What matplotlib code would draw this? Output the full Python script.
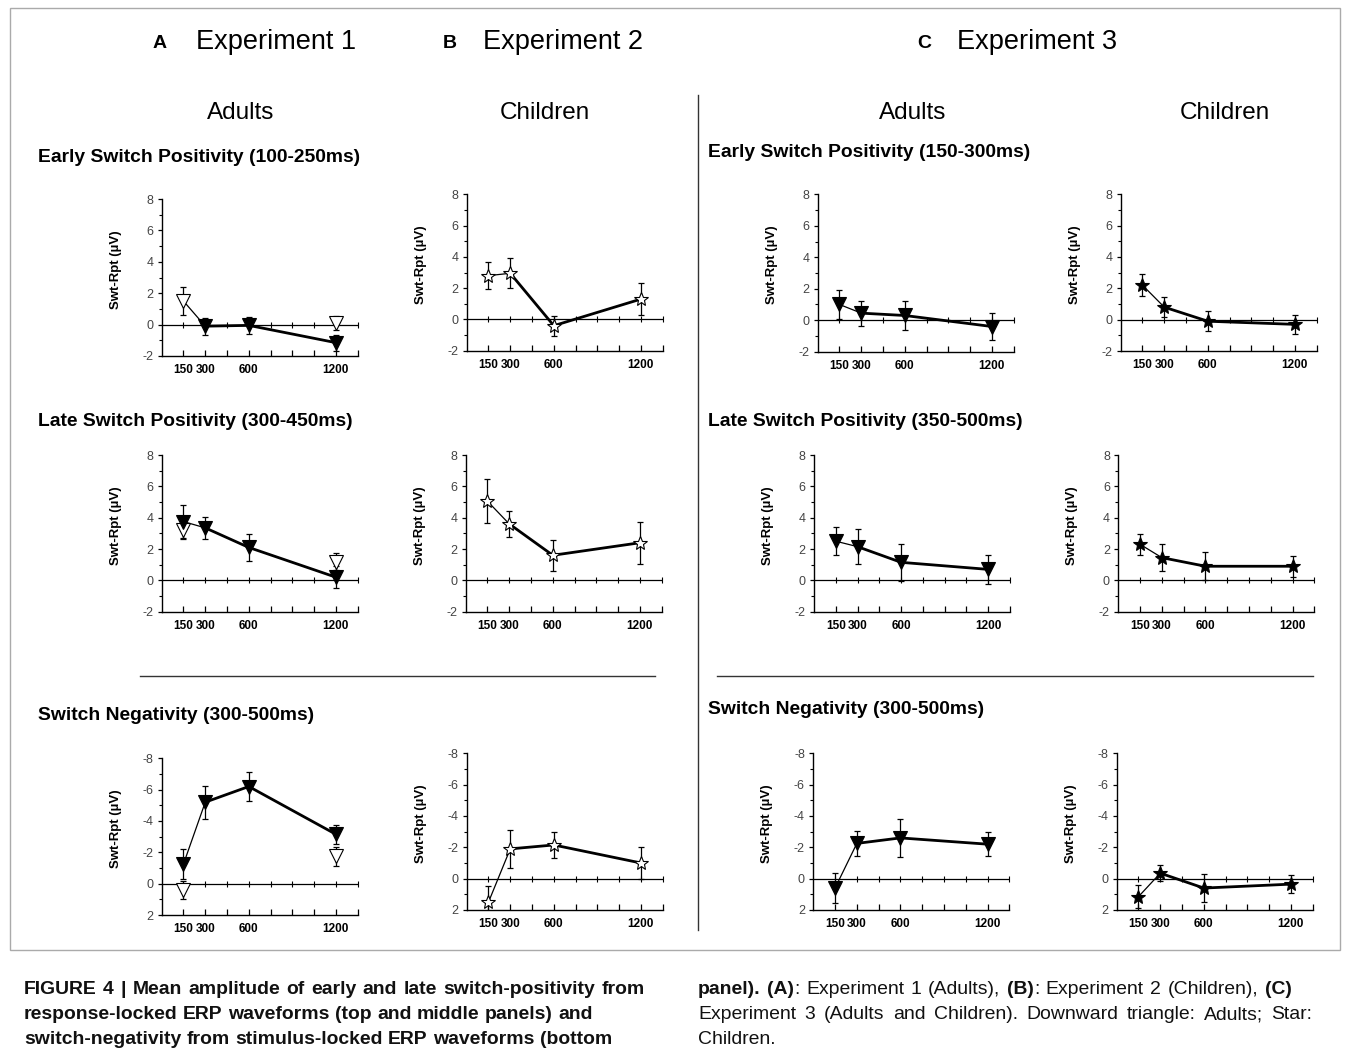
import matplotlib
matplotlib.use('Agg')
import matplotlib.pyplot as plt
from matplotlib.lines import Line2D
from matplotlib.patches import Rectangle

plt.rcParams['font.family'] = ['Liberation Sans', 'DejaVu Sans']
plt.rcParams['axes.unicode_minus'] = False

W, H = 1357, 1058
fig = plt.figure(figsize=(W / 100, H / 100), dpi=100)

# ---------------- data ----------------
delays = [150, 300, 600, 1200]
delay_labels = ['150', '300', '600', '1200']
minor_delays = [450, 750, 900, 1050, 1350]

# Experiment 1 (adults), triangles
e1_early = [1.5, -0.1, -0.05, -1.15]
e1_early_err = [0.9, 0.55, 0.55, 0.5]
e1_early_open = [True, False, False, False]
e1_early_xx = [1200]
e1_early_xv = [0.1]
e1_early_xe = [0.45]

e1_late = [3.75, 3.35, 2.1, 0.2]
e1_late_err = [1.05, 0.7, 0.85, 0.7]
e1_late_open = [False, False, False, False]
e1_late_xx = [150, 1200]
e1_late_xv = [3.2, 1.2]
e1_late_xe = [0.57, 0.55]

e1_neg = [-1.25, -5.2, -6.2, -3.15]
e1_neg_err = [0.95, 1.05, 0.9, 0.6]
e1_neg_open = [False, False, False, False]
e1_neg_xx = [150, 1200]
e1_neg_xv = [0.4, -1.75]
e1_neg_xe = [0.6, 0.6]

# Experiment 2 (children), open stars
e2_early = [2.8, 2.95, -0.4, 1.3]
e2_early_err = [0.85, 0.95, 0.65, 1.0]
e2_late = [5.05, 3.6, 1.6, 2.4]
e2_late_err = [1.4, 0.85, 1.0, 1.35]
e2_neg = [1.5, -1.9, -2.15, -1.0]
e2_neg_err = [1.0, 1.2, 0.85, 1.05]

# Experiment 3 adults (filled triangles) and children (filled stars)
e3a_early = [1.0, 0.45, 0.3, -0.4]
e3a_early_err = [0.95, 0.8, 0.9, 0.85]
e3c_early = [2.2, 0.8, -0.1, -0.3]
e3c_early_err = [0.72, 0.65, 0.65, 0.62]
e3a_late = [2.5, 2.15, 1.15, 0.7]
e3a_late_err = [0.88, 1.12, 1.2, 0.92]
e3c_late = [2.3, 1.45, 0.9, 0.9]
e3c_late_err = [0.68, 0.85, 0.9, 0.68]
e3a_neg = [0.6, -2.25, -2.6, -2.2]
e3a_neg_err = [0.95, 0.78, 1.2, 0.75]
e3c_neg = [1.15, -0.35, 0.6, 0.35]
e3c_neg_err = [0.72, 0.53, 0.88, 0.58]

pos_ticks = [-2, 0, 2, 4, 6, 8]
neg_ticks = [-8, -6, -4, -2, 0, 2]
ylabel = 'Swt-Rpt (\u00b5V)'

# ---------------- helpers ----------------
AX_W = 196


def make_axes(left, top, bottom, inverted):
    ax = fig.add_axes([left / W, 1 - bottom / H, AX_W / W, (bottom - top) / H])
    ax.set_xlim(0, 1350)
    if inverted:
        ax.set_ylim(2, -8)
        ax.set_yticks(neg_ticks)
        ax.set_yticks([-7, -5, -3, -1, 1], minor=True)
    else:
        ax.set_ylim(-2, 8)
        ax.set_yticks(pos_ticks)
        ax.set_yticks([-1, 1, 3, 5, 7], minor=True)
    for s in ('top', 'right'):
        ax.spines[s].set_visible(False)
    for s in ('left', 'bottom'):
        ax.spines[s].set_linewidth(1.0)
    ax.set_xticks(delays)
    ax.set_xticklabels(delay_labels, fontsize=8.5, fontweight='bold')
    ax.set_xticks(minor_delays, minor=True)
    ax.tick_params(axis='x', which='both', direction='in', length=4, width=0.9, pad=6)
    ax.tick_params(axis='y', which='major', direction='out', length=3, width=0.9,
                   labelsize=9, labelcolor='#444444', pad=3)
    ax.tick_params(axis='y', which='minor', direction='out', length=2, width=0.8)
    ax.set_ylabel(ylabel, fontsize=9.5, fontweight='bold')
    ax.yaxis.set_label_coords(-40 / AX_W, 0.55)
    ax.axhline(0, color='k', lw=0.9, zorder=1)
    allx = sorted(delays + minor_delays)
    ax.plot(allx, [0] * len(allx), ls='none', marker='|', ms=5, mew=0.8, color='k',
            clip_on=False, zorder=1)
    ax.patch.set_alpha(0)
    return ax


def draw_series(ax, vals, errs, marker, open_flags=None, all_open=False,
                xx=None, xv=None, xe=None):
    ms = 9.5 if marker == 'v' else 10
    ax.plot(delays[:2], vals[:2], color='k', lw=0.9, zorder=2)
    ax.plot(delays[1:], vals[1:], color='k', lw=2.0, zorder=2)
    ax.errorbar(delays, vals, yerr=errs, fmt='none', ecolor='k', elinewidth=0.9,
                capsize=2.5, capthick=0.9, zorder=2)
    if xx:
        ax.errorbar(xx, xv, yerr=xe, fmt='none', ecolor='k', elinewidth=0.9,
                    capsize=2.5, capthick=0.9, zorder=2)
        ax.plot(xx, xv, ls='none', marker=marker, ms=ms, mfc='white', mec='k',
                mew=0.8, zorder=3)
    for i, (d, v) in enumerate(zip(delays, vals)):
        is_open = all_open or (open_flags is not None and open_flags[i])
        ax.plot([d], [v], ls='none', marker=marker, ms=ms,
                mfc='white' if is_open else 'black', mec='k', mew=0.8, zorder=4)


# ---------------- panels ----------------
# row 1
ax = make_axes(161.7, 199, 356, False)
draw_series(ax, e1_early, e1_early_err, 'v', e1_early_open, xx=e1_early_xx,
            xv=e1_early_xv, xe=e1_early_xe)
ax = make_axes(466.7, 194.3, 350.7, False)
draw_series(ax, e2_early, e2_early_err, '*', all_open=True)
ax = make_axes(817.7, 194.3, 351.7, False)
draw_series(ax, e3a_early, e3a_early_err, 'v')
ax = make_axes(1120.7, 194.3, 351, False)
draw_series(ax, e3c_early, e3c_early_err, '*')

# row 2
ax = make_axes(161.7, 455, 611.7, False)
draw_series(ax, e1_late, e1_late_err, 'v', e1_late_open, xx=e1_late_xx,
            xv=e1_late_xv, xe=e1_late_xe)
ax = make_axes(465.7, 455, 611.7, False)
draw_series(ax, e2_late, e2_late_err, '*', all_open=True)
ax = make_axes(814, 455, 611.7, False)
draw_series(ax, e3a_late, e3a_late_err, 'v')
ax = make_axes(1118.3, 455, 611.7, False)
draw_series(ax, e3c_late, e3c_late_err, '*')

# row 3
ax = make_axes(161.7, 758.3, 915, True)
draw_series(ax, e1_neg, e1_neg_err, 'v', e1_neg_open, xx=e1_neg_xx,
            xv=e1_neg_xv, xe=e1_neg_xe)
ax = make_axes(466.7, 753.3, 910, True)
draw_series(ax, e2_neg, e2_neg_err, '*', all_open=True)
ax = make_axes(813.3, 753.3, 910, True)
draw_series(ax, e3a_neg, e3a_neg_err, 'v')
ax = make_axes(1116.7, 753.3, 910, True)
draw_series(ax, e3c_neg, e3c_neg_err, '*')


# ---------------- texts ----------------
def ftext(x, y, s, **kw):
    fig.text(x / W, 1 - y / H, s, **kw)


ftext(160, 44, 'A', fontsize=14, fontweight='bold', ha='center', va='center')
ftext(196, 42, 'Experiment 1', fontsize=19.5, ha='left', va='center')
ftext(450, 44, 'B', fontsize=14, fontweight='bold', ha='center', va='center')
ftext(483, 42, 'Experiment 2', fontsize=19.5, ha='left', va='center')
ftext(924, 44, 'C', fontsize=14, fontweight='bold', ha='center', va='center')
ftext(957, 42, 'Experiment 3', fontsize=19.5, ha='left', va='center')

ftext(241, 113, 'Adults', fontsize=17.5, ha='center', va='center')
ftext(545, 113, 'Children', fontsize=17.5, ha='center', va='center')
ftext(913, 113, 'Adults', fontsize=17.5, ha='center', va='center')
ftext(1225, 113, 'Children', fontsize=17.5, ha='center', va='center')

sec_kw = dict(fontsize=13.9, fontweight='bold', ha='left', va='center')
ftext(38, 157, 'Early Switch Positivity (100-250ms)', **sec_kw)
ftext(38, 422, 'Late Switch Positivity (300-450ms)', **sec_kw)
ftext(38, 715, 'Switch Negativity (300-500ms)', **sec_kw)
ftext(708, 153, 'Early Switch Positivity (150-300ms)', **sec_kw)
ftext(708, 422, 'Late Switch Positivity (350-500ms)', **sec_kw)
ftext(708, 710, 'Switch Negativity (300-500ms)', **sec_kw)

# separator lines and frame
fig.add_artist(Line2D([698 / W, 698 / W], [1 - 95 / H, 1 - 930 / H], color='#333333', lw=1.0))
fig.add_artist(Line2D([140 / W, 655 / W], [1 - 676 / H, 1 - 676 / H], color='#333333', lw=1.0))
fig.add_artist(Line2D([717 / W, 1313 / W], [1 - 676 / H, 1 - 676 / H], color='#333333', lw=1.0))
fig.add_artist(Rectangle((10 / W, 1 - 950 / H), 1330 / W, 942 / H, fill=False,
                         edgecolor='#aaaaaa', lw=1.0, transform=fig.transFigure))

# ---------------- caption ----------------
renderer = fig.canvas.get_renderer()
CAP = 10.0


def twidth(s, bold, size=None):
    t = fig.text(0, 0, s, fontsize=size or CAP, fontweight='bold' if bold else 'normal')
    w = t.get_window_extent(renderer).width
    t.remove()
    return w


line1 = 'FIGURE 4 | Mean amplitude of early and late switch-positivity from'
line2 = 'response-locked ERP waveforms (top and middle panels) and'
CAP = 10.0 * 570 / twidth(line2, True, 10.0)


def draw_line(words, x0, x1, ybase, color='#111111'):
    widths = [sum(twidth(t, b) for t, b in w) for w in words]
    nat_gap = twidth('a a', False) - twidth('aa', False)
    if x1 is None or len(words) < 2:
        gap = nat_gap
    else:
        gap = (x1 - x0 - sum(widths)) / (len(words) - 1)
    x = x0
    for w, wd in zip(words, widths):
        xx = x
        for t, b in w:
            fig.text(xx / W, 1 - ybase / H, t, fontsize=CAP,
                     fontweight='bold' if b else 'normal', color=color,
                     ha='left', va='baseline')
            xx += twidth(t, b)
        x += wd + gap


def words_of(s, bold):
    return [[(w, bold)] for w in s.split()]


draw_line(words_of(line1, True), 24, 645, 994)
draw_line(words_of(line2, True), 24, None, 1019)
draw_line(words_of('switch-negativity from stimulus-locked ERP waveforms (bottom', True), 24, None, 1044)

r1 = [[('panel).', True)], [('(A)', True), (':', False)]] + words_of('Experiment 1 (Adults),', False) + \
     [[('(B)', True), (':', False)]] + words_of('Experiment 2 (Children),', False) + [[('(C)', True)]]
draw_line(r1, 698, 1292, 994)
draw_line(words_of('Experiment 3 (Adults and Children). Downward triangle: Adults; Star:', False), 698, 1312, 1019)
draw_line(words_of('Children.', False), 698, None, 1044)

fig.savefig('out.png', dpi=100)
